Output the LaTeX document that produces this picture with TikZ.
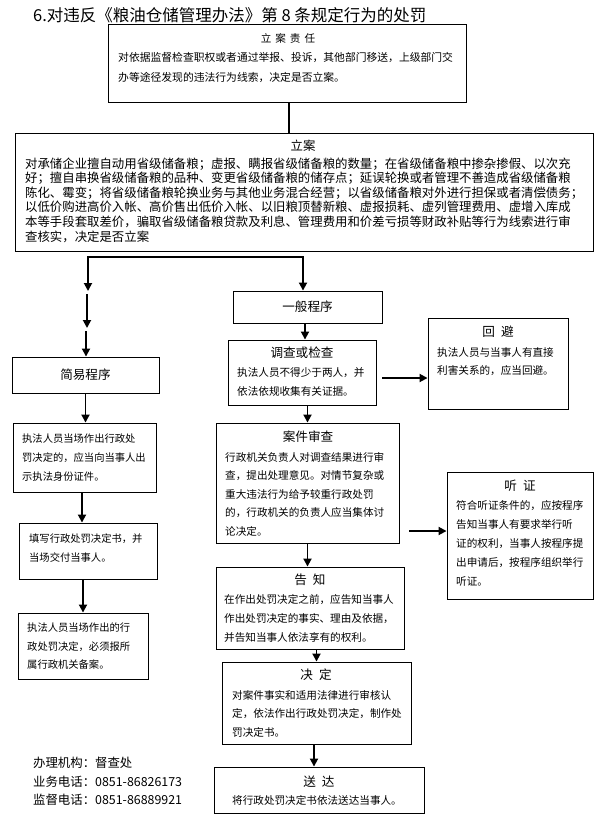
\documentclass[tikz,border=0pt]{standalone}
\usepackage{fontspec}
\newfontfamily\cjk{Noto Sans CJK SC}
\usetikzlibrary{arrows.meta}
\tikzset{
  box/.style={draw, line width=0.9pt, inner sep=0pt},
  ttl/.style={font=\cjk\fontsize{12.6}{14}\selectfont, inner sep=0pt},
  bodytext/.style={font=\cjk\fontsize{10.6}{19}\selectfont, align=left, anchor=north west, inner sep=0pt},
  bigtext/.style={font=\cjk\fontsize{12.4}{14.6}\selectfont, align=left, anchor=north west, inner sep=0pt},
  conn/.style={line width=1.8pt, line cap=rect},
  arr/.style={line width=1.8pt, -{Triangle[length=8pt,width=8pt]}},
}
\begin{document}
\begin{tikzpicture}[x=1pt,y=-1pt]
\useasboundingbox (0,0) rectangle (612,823);
\fill[white] (0,0) rectangle (612,823);

% title
\node[font=\cjk\fontsize{16.5}{18}\selectfont, anchor=west, inner sep=0pt] (title) at (33,15) {6.对违反《粮油仓储管理办法》第 8 条规定行为的处罚};

% boxes
\node[box, minimum width=358pt, minimum height=78pt] (b1) at (287,63) {};
\node[box, minimum width=578pt, minimum height=118pt] (b2) at (304,192) {};
\node[box, minimum width=147pt, minimum height=36pt] (jy) at (85.5,375) {};
\node[box, minimum width=149pt, minimum height=32pt] (gen) at (307.5,307) {};
\node[box, minimum width=148pt, minimum height=65pt] (dc) at (302,372.5) {};
\node[box, minimum width=140pt, minimum height=91pt] (hb) at (498,363.5) {};
\node[box, minimum width=183pt, minimum height=120pt] (sc) at (307.5,483) {};
\node[box, minimum width=146pt, minimum height=127pt] (tz) at (520,535.5) {};
\node[box, minimum width=188pt, minimum height=82pt] (gz) at (310,608) {};
\node[box, minimum width=189pt, minimum height=82pt] (jd) at (316.5,703) {};
\node[box, minimum width=210pt, minimum height=46pt] (sd) at (319,790) {};
\node[box, minimum width=143pt, minimum height=69pt] (A) at (84.5,457.5) {};
\node[box, minimum width=138pt, minimum height=56pt] (B) at (88,551) {};
\node[box, minimum width=130pt, minimum height=66pt] (C) at (83,646) {};

% box texts
\node[font=\cjk\fontsize{10.6}{12}\selectfont, inner sep=0pt] (b1t) at (288,38) {立\hspace{4pt}案\hspace{4pt}责\hspace{4pt}任};
\node[bodytext, font=\cjk\fontsize{10.8}{19.8}\selectfont] (b1b) at (118,52) {对依据监督检查职权或者通过举报、投诉，其他部门移送，上级部门交\\办等途径发现的违法行为线索，决定是否立案。};

\node[ttl, font=\cjk\fontsize{12.4}{14}\selectfont] (b2t) at (303,146) {立案};
\node[bigtext] (b2b) at (25,157.3) {对承储企业擅自动用省级储备粮；虚报、瞒报省级储备粮的数量；在省级储备粮中掺杂掺假、以次充\\
好；擅自串换省级储备粮的品种、变更省级储备粮的储存点；延误轮换或者管理不善造成省级储备粮\\
陈化、霉变；将省级储备粮轮换业务与其他业务混合经营；以省级储备粮对外进行担保或者清偿债务；\\
以低价购进高价入帐、高价售出低价入帐、以旧粮顶替新粮、虚报损耗、虚列管理费用、虚增入库成\\
本等手段套取差价，骗取省级储备粮贷款及利息、管理费用和价差亏损等财政补贴等行为线索进行审\\
查核实，决定是否立案};

\node[ttl] (jyt) at (jy.center) {简易程序};
\node[ttl] (gent) at (gen.center) {一般程序};

\node[ttl] (dct) at (302,353) {调查或检查};
\node[bodytext] (dcb) at (237,367) {执法人员不得少于两人，并\\依法依规收集有关证据。};

\node[ttl] (hbt) at (498,332) {回\hspace{6pt}避};
\node[bodytext, font=\cjk\fontsize{10.6}{18.5}\selectfont] (hbb) at (437,347) {执法人员与当事人有直接\\利害关系的，应当回避。};

\node[ttl] (sct) at (308,437) {案件审查};
\node[bodytext, font=\cjk\fontsize{10.6}{18.6}\selectfont] (scb) at (225,452) {行政机关负责人对调查结果进行审\\查，提出处理意见。对情节复杂或\\重大违法行为给予较重行政处罚\\的，行政机关的负责人应当集体讨\\论决定。};

\node[ttl] (tzt) at (520,486) {听\hspace{6pt}证};
\node[bodytext] (tzb) at (456,500) {符合听证条件的，应按程序\\告知当事人有要求举行听\\证的权利，当事人按程序提\\出申请后，按程序组织举行\\听证。};

\node[ttl] (gzt) at (310,580) {告\hspace{6pt}知};
\node[bodytext] (gzb) at (224,594) {在作出处罚决定之前，应告知当事人\\作出处罚决定的事实、理由及依据，\\并告知当事人依法享有的权利。};

\node[ttl] (jdt) at (316,675) {决\hspace{6pt}定};
\node[bodytext, font=\cjk\fontsize{10.6}{18.5}\selectfont] (jdb) at (232,690) {对案件事实和适用法律进行审核认\\定，依法作出行政处罚决定，制作处\\罚决定书。};

\node[ttl] (sdt) at (319,782) {送\hspace{6pt}达};
\node[font=\cjk\fontsize{10.6}{12}\selectfont, inner sep=0pt] (sdb) at (317,800) {将行政处罚决定书依法送达当事人。};

\node[bodytext, font=\cjk\fontsize{10.3}{19}\selectfont] (Ab) at (22,434) {执法人员当场作出行政处\\罚决定的，应当向当事人出\\示执法身份证件。};
\node[bodytext, font=\cjk\fontsize{10.3}{19}\selectfont] (Bb) at (29,534) {填写行政处罚决定书，并\\当场交付当事人。};
\node[bodytext, font=\cjk\fontsize{10.3}{18.5}\selectfont] (Cb) at (27,623) {执法人员当场作出的行\\政处罚决定，必须报所\\属行政机关备案。};

% contact
\node[font=\cjk\fontsize{12.4}{14}\selectfont, anchor=west, inner sep=0pt] (ct1) at (33,763) {办理机构：督查处};
\node[font=\cjk\fontsize{12.4}{14}\selectfont, anchor=west, inner sep=0pt] (ct2) at (33,782) {业务电话：0851-86826173};
\node[font=\cjk\fontsize{12.4}{14}\selectfont, anchor=west, inner sep=0pt] (ct3) at (33,800) {监督电话：0851-86889921};

% connectors
\draw[conn, line cap=butt] ([xshift=2pt]b1.south) -- ([xshift=2pt]b1.south |- b2.north);
\coordinate (sL) at (88,257);
\coordinate (sR) at (303,257);
\coordinate (a1) at (88,291);
\coordinate (a2) at (87,294);
\coordinate (a3) at (87,328);
\coordinate (a4) at (86,331);
\draw[conn] (sL) -- (sR);
\draw[arr] (sR) -- (sR |- gen.north);
\draw[arr] (sL) -- (a1);
\draw[arr] (a2) -- (a3);
\draw[arr] (a4) -- (a4 |- jy.north);

\draw[arr] ([xshift=-2.5pt]gen.south) -- ([xshift=-2.5pt]gen.south |- dc.north);
\draw[arr] (sc.north |- dc.south) -- (sc.north);
\draw[arr] (sc.south) -- (sc.south |- gz.north);
\draw[arr] (jd.north |- gz.south) -- (jd.north);
\draw[arr] ([xshift=-2.5pt]jd.south) -- ([xshift=-2.5pt]jd.south |- sd.north);
\coordinate (h0) at (382,378);
\draw[arr] (h0) -- (h0 -| hb.west);
\coordinate (t0) at (409,531);
\draw[arr] (t0) -- (t0 -| tz.west);

\draw[arr] (jy.south) -- (jy.south |- A.north);
\draw[arr] ([xshift=-2.5pt]A.south) -- ([xshift=-2.5pt]A.south |- B.north);
\draw[arr] ([xshift=-5pt]B.south) -- ([xshift=-5pt]B.south |- C.north);
\end{tikzpicture}
\end{document}
